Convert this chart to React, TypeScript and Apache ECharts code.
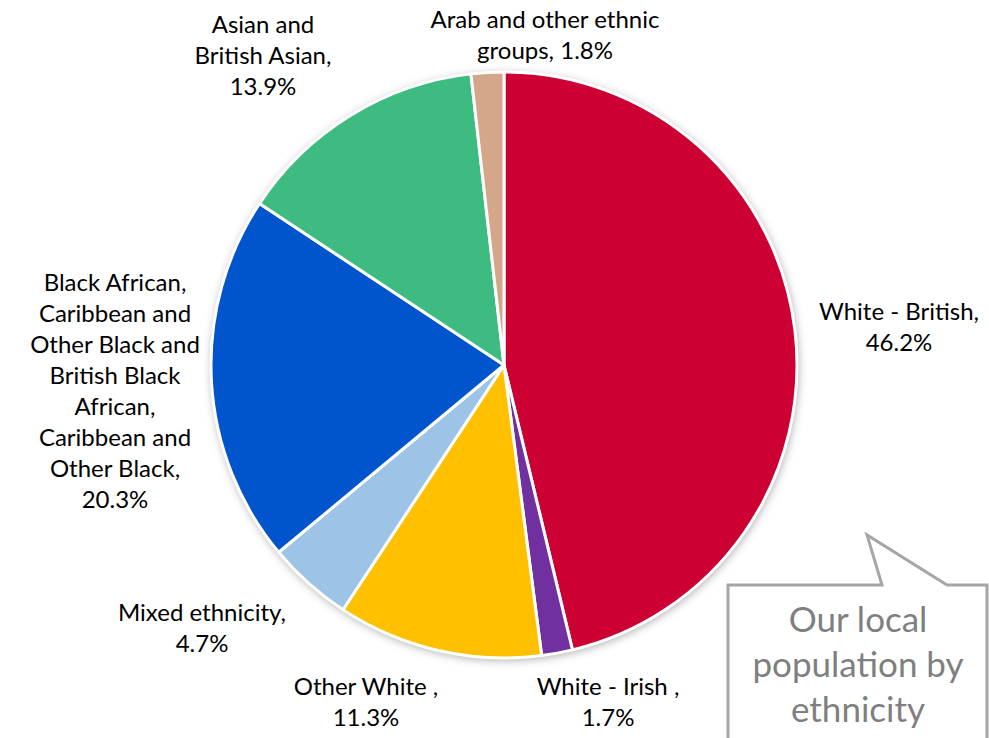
import React, { useEffect, useRef } from "react";
import * as echarts from "echarts";

const categories = [
  "White - British",
  "White - Irish",
  "Other White",
  "Mixed ethnicity",
  "Black African, Caribbean and Other Black and British Black African, Caribbean and Other Black",
  "Asian and British Asian",
  "Arab and other ethnic groups",
];
const labelTexts = [
  "White - British,",
  "White - Irish ,",
  "Other White ,",
  "Mixed ethnicity,",
  "Black African,\nCaribbean and\nOther Black and\nBritish Black\nAfrican,\nCaribbean and\nOther Black,",
  "Asian and\nBritish Asian,",
  "Arab and other ethnic\ngroups,",
];
const values = [46.2, 1.7, 11.3, 4.7, 20.3, 13.9, 1.8];
const colors = ["#CC0033", "#7030A0", "#FFC000", "#9DC3E6", "#0055CC", "#3DBB80", "#D5A78A"];

// label anchor (centre) positions, in pixels
const labelAnchors = [
  [899, 326],
  [608, 701],
  [366, 701],
  [202, 627],
  [115, 390],
  [263, 54],
  [545, 34],
];

const FONT = "'Gill Sans', 'Gill Sans MT', Lato, 'Noto Sans', sans-serif";

export default function App() {
  const ref = useRef<HTMLDivElement>(null);
  useEffect(() => {
    document.body.style.margin = "0";
    const chart = echarts.init(ref.current!, undefined, { renderer: "svg" });
    chart.setOption({
      animation: false,
      backgroundColor: "#ffffff",
      series: [
        {
          type: "pie",
          silent: true,
          center: [504, 365],
          radius: 293,
          label: { show: false },
          labelLine: { show: false },
          itemStyle: {
            color: "#ffffff",
            shadowBlur: 10,
            shadowColor: "rgba(0,0,0,0.35)",
            shadowOffsetX: 1,
            shadowOffsetY: 2,
          },
          data: [{ value: 1, name: "bg" }],
          z: 1,
        },
        {
          type: "pie",
          center: [504, 365],
          radius: 293,
          startAngle: 90,
          clockwise: true,
          avoidLabelOverlap: false,
          z: 2,
          itemStyle: { borderColor: "#ffffff", borderWidth: 3 },
          label: {
            show: true,
            position: "outside",
            color: "#000000",
            fontFamily: FONT,
            fontSize: 24,
            lineHeight: 31,
            formatter: (p: any) =>
              labelTexts[p.dataIndex] + (p.dataIndex === 6 ? " " : "\n") + values[p.dataIndex] + "%",
          },
          labelLine: { show: false, length: 12, length2: 0 },
          labelLayout: (p: any) => ({
            x: labelAnchors[p.dataIndex][0],
            y: labelAnchors[p.dataIndex][1],
            align: "center",
            verticalAlign: "middle",
          }),
          data: categories.map((c, i) => ({
            name: c,
            value: values[i],
            itemStyle: { color: colors[i] },
          })),
        },
      ],
      graphic: [
        {
          type: "polygon",
          z: 10,
          shape: {
            points: [
              [728, 585],
              [882, 585],
              [867, 535],
              [947, 585],
              [987, 585],
              [987, 745],
              [728, 745],
            ],
          },
          style: { fill: "#ffffff", stroke: "#A6A6A6", lineWidth: 3 },
        },
        {
          type: "text",
          z: 11,
          x: 858,
          y: 663,
          style: {
            text: "Our local\npopulation by\nethnicity",
            fill: "#7F7F7F",
            font: `35px ${FONT}`,
            lineHeight: 45,
            align: "center",
            verticalAlign: "middle",
          },
        },
      ],
    });
    return () => chart.dispose();
  }, []);
  return <div ref={ref} style={{ width: 989, height: 738 }} />;
}
